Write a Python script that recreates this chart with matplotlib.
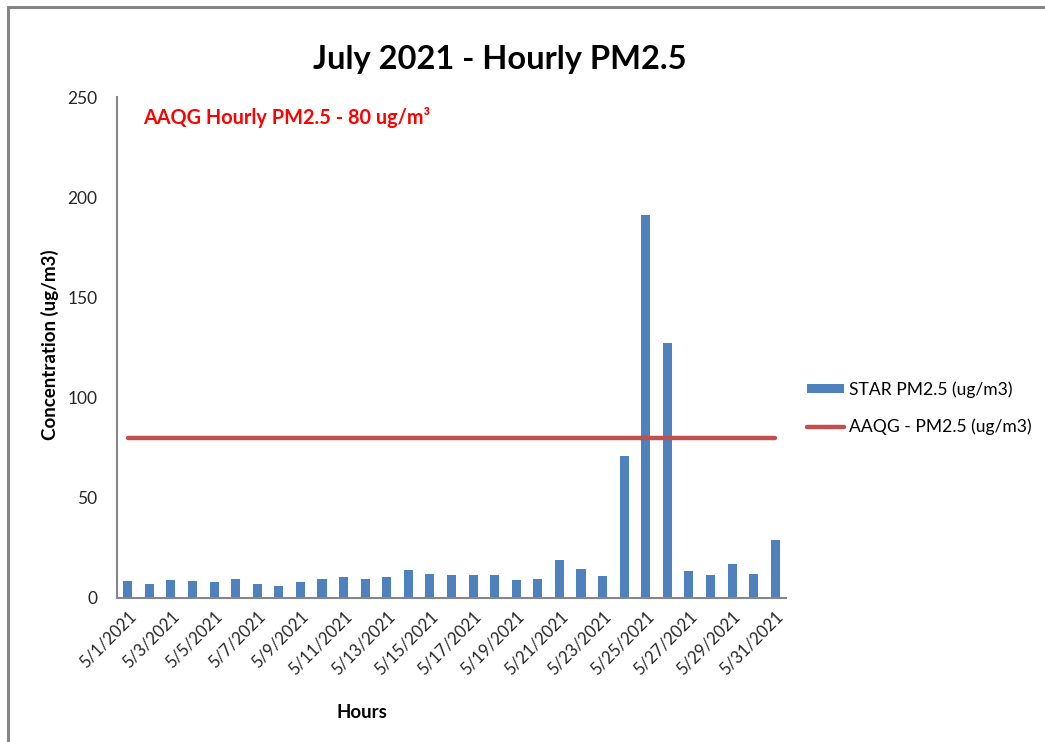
import matplotlib
matplotlib.use("Agg")
import matplotlib.pyplot as plt
from matplotlib.patches import Rectangle

plt.rcParams['font.family'] = ['Lato', 'DejaVu Sans']

# data
days = [f"5/{d}/2021" for d in range(1, 32)]
star_pm25 = [8.5, 7, 9, 8.5, 8, 9.5, 7, 6, 8, 9.5,
             10.5, 9.5, 10.5, 14, 12, 11.5, 11.5, 11.5, 9, 9.5,
             19, 14.5, 11, 71, 191, 127, 13.5, 11.5, 17, 12, 29]
aaqg_limit = [80] * len(days)
yticks = [0, 50, 100, 150, 200, 250]

bar_col = "#4F81BD"
line_col = "#C0504D"
axis_col = "#868686"

fig = plt.figure(figsize=(10.45, 7.42), dpi=100)
# chart border (only top/left visible in the original crop)
fig.patches.append(Rectangle((8 / 1045, -0.1), 1.2, 1 - 7 / 742 + 0.1,
                             transform=fig.transFigure, fill=False,
                             edgecolor=axis_col, lw=2.2))

ax = fig.add_axes([117 / 1045, 1 - 598 / 742, 669 / 1045, (598 - 97) / 742])
x = list(range(len(days)))
bars = ax.bar(x, star_pm25, width=0.42, color=bar_col, zorder=2)
line, = ax.plot(x, aaqg_limit, color=line_col, lw=3.2, solid_capstyle="round", zorder=3)

ax.set_xlim(-0.5, len(days) - 0.5)
ax.set_ylim(0, 250)
ax.set_yticks(yticks)
ax.set_yticklabels([str(v) for v in yticks], fontsize=12.5, color="#262626")
ax.set_xticks(x[::2])
ax.set_xticklabels(days[::2], rotation=45, ha="right", rotation_mode="anchor",
                   fontsize=12, color="#262626")
ax.tick_params(axis="y", length=0, pad=14)
ax.tick_params(axis="x", length=0, pad=7)

for s in ["top", "right"]:
    ax.spines[s].set_visible(False)
for s in ["left", "bottom"]:
    ax.spines[s].set_color(axis_col)
    ax.spines[s].set_linewidth(1.5)

fig.text(50 / 1045, 1 - 345 / 742, "Concentration (ug/m3)", fontsize=13.5,
         fontweight="bold", rotation=90, ha="center", va="center")
fig.text(362 / 1045, 1 - 712 / 742, "Hours", fontsize=13.5, fontweight="bold",
         ha="center", va="center")

fig.text(500 / 1045, 1 - 60 / 742, "July 2021 - Hourly PM2.5", fontsize=23.5,
         fontweight="bold", ha="center", va="center")
fig.text(143 / 1045, 1 - 117 / 742, "AAQG Hourly PM2.5 - 80 ug/m³",
         fontsize=14.3, fontweight="bold", color="#FF0000", ha="left", va="center")

fig.legend([bars, line], ["STAR PM2.5 (ug/m3)", "AAQG - PM2.5 (ug/m3)"],
           loc="center left", bbox_to_anchor=(791 / 1045, 1 - 408 / 742),
           frameon=False, fontsize=12.6, handlelength=2.1, handleheight=0.45,
           labelspacing=1.2, handletextpad=0.3)

fig.savefig("out.png", dpi=100)
